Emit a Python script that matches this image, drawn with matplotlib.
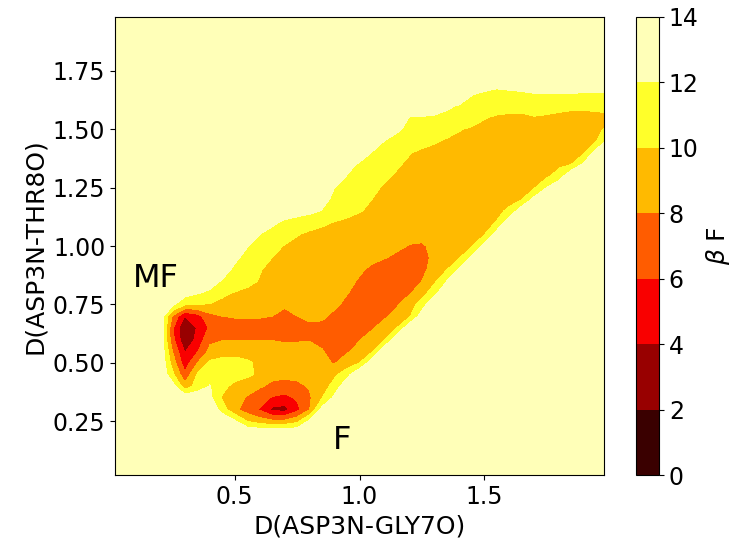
import matplotlib.pyplot as plt
import numpy as np

# free energy grid, 0.05 spacing, values in units of kT (capped at 14)
grid_x = np.linspace(0.0, 2.0, 41)
grid_y = np.linspace(0.0, 2.0, 41)
f_cap = 14.0

# rows: (y, first x, values going right); rest of the row = cap
fes_rows = [
    (0.25, 0.45, [14, 12.3, 10.0, 9.0, 8.5, 8.5, 9.5, 12.5, 14]),
    (0.30, 0.40, [14, 11.0, 8.5, 7.0, 5.8, 3.5, 3.3, 5.4, 8.0, 12.7, 14]),
    (0.35, 0.25, [14, 13.5, 13.5, 12.5, 9.8, 8.8, 7.8, 7.0, 5.8, 5.3, 6.3, 7.7, 10.0, 12.5, 14]),
    (0.40, 0.20, [14, 13.0, 8.8, 10.8, 12.1, 10.5, 9.5, 8.8, 8.2, 7.6, 7.4, 7.5, 8.2, 9.0, 10.8,
                  13.5, 14]),
    (0.45, 0.20, [14, 10.5, 6.5, 10.2, 11.2, 11.2, 10.8, 10.4, 9.6, 8.5, 8.4, 8.6, 8.9, 9.0, 9.6,
                  11.3, 14]),
    (0.50, 0.20, [14, 9.2, 4.8, 8.0, 10.4, 10.8, 10.8, 10.3, 9.6, 9.3, 9.2, 9.0, 8.8, 8.3, 7.9,
                  8.8, 10.0, 13.2, 14]),
    (0.55, 0.20, [14, 8.0, 3.8, 5.8, 8.5, 9.0, 9.2, 9.2, 9.0, 8.9, 8.8, 8.7, 8.5, 8.1, 7.4, 7.8,
                  8.6, 9.7, 13.5, 14]),
    (0.60, 0.20, [14, 6.6, 2.4, 4.6, 7.6, 7.9, 7.9, 7.9, 7.9, 7.9, 7.7, 7.8, 7.9, 7.6, 7.2, 7.2,
                  7.9, 8.8, 10.0, 13.4, 14]),
    (0.65, 0.20, [14, 6.4, 1.8, 4.2, 6.3, 7.0, 7.0, 7.0, 7.1, 7.2, 7.0, 7.3, 7.5, 7.4, 7.1, 7.0,
                  7.2, 7.8, 8.8, 10.0, 13.5, 14]),
    (0.70, 0.20, [14, 7.8, 4.0, 5.2, 7.4, 8.0, 8.2, 8.2, 8.2, 8.0, 7.6, 8.0, 8.5, 8.4, 7.5, 6.8,
                  6.8, 7.0, 7.7, 8.6, 9.7, 13.0, 14]),
    (0.75, 0.20, [14, 12.5, 10.2, 10.0, 9.9, 9.5, 9.2, 9.0, 8.9, 8.6, 8.2, 8.6, 8.9, 8.8, 8.4,
                  7.5, 6.9, 6.8, 7.0, 7.8, 9.0, 11.0, 14]),
    (0.80, 0.25, [14, 13.0, 12.2, 11.6, 10.4, 9.9, 9.6, 9.4, 9.3, 9.2, 9.2, 9.2, 9.0, 8.7, 8.1,
                  7.3, 6.9, 6.9, 7.2, 7.8, 9.0, 11.3, 14]),
    (0.85, 0.35, [14, 13.0, 11.8, 11.2, 10.5, 9.9, 9.6, 9.4, 9.3, 9.2, 9.1, 8.9, 8.5, 7.8, 7.1,
                  6.8, 6.8, 7.2, 8.0, 9.6, 12.0, 14]),
    (0.90, 0.40, [14, 13.0, 11.6, 10.8, 10.1, 9.6, 9.4, 9.3, 9.3, 9.2, 9.0, 8.7, 8.3, 7.6, 6.9,
                  6.7, 6.9, 7.6, 8.6, 9.9, 12.2, 14]),
    (0.95, 0.45, [14, 12.4, 11.4, 10.7, 10.0, 9.6, 9.4, 9.3, 9.2, 9.1, 9.0, 8.8, 8.5, 8.1, 7.6,
                  7.2, 7.4, 8.4, 9.2, 9.9, 12.4, 14]),
    (1.00, 0.50, [14, 12.1, 11.4, 10.6, 9.9, 9.6, 9.4, 9.3, 9.2, 9.1, 9.0, 8.9, 8.7, 8.4, 7.9,
                  7.8, 8.4, 8.9, 9.3, 9.8, 12.6, 14]),
    (1.05, 0.55, [14, 12.0, 11.3, 10.7, 10.1, 9.7, 9.5, 9.3, 9.2, 9.1, 9.0, 8.9, 8.8, 8.6, 8.5,
                  8.7, 8.9, 9.1, 9.4, 9.9, 13.0, 14]),
    (1.10, 0.60, [14, 12.4, 11.6, 11.1, 10.7, 10.3, 9.9, 9.6, 9.4, 9.2, 9.1, 9.0, 8.9, 8.8, 8.8,
                  8.9, 9.0, 9.2, 9.5, 10.1, 13.6, 14]),
    (1.15, 0.65, [14, 13.2, 12.9, 12.5, 11.9, 11.2, 10.6, 10.1, 9.7, 9.4, 9.2, 9.1, 9.0, 8.9, 8.9,
                  9.0, 9.1, 9.3, 9.6, 10.3, 13.4, 14]),
    (1.20, 0.80, [14, 12.6, 11.6, 11.0, 10.5, 10.0, 9.7, 9.5, 9.3, 9.2, 9.1, 9.0, 9.0, 9.0, 9.1,
                  9.2, 9.5, 9.9, 12.6, 14]),
    (1.25, 0.85, [14, 12.0, 11.4, 10.9, 10.4, 9.8, 9.6, 9.4, 9.3, 9.2, 9.1, 9.1, 9.1, 9.1, 9.2,
                  9.3, 9.5, 9.8, 12.0, 14]),
    (1.30, 0.90, [14, 11.9, 11.5, 11.1, 10.3, 9.8, 9.6, 9.4, 9.3, 9.2, 9.1, 9.1, 9.1, 9.1, 9.2,
                  9.3, 9.4, 9.6, 10.8, 14]),
    (1.35, 0.90, [14, 13.0, 11.6, 11.2, 10.8, 10.2, 9.7, 9.5, 9.4, 9.3, 9.2, 9.2, 9.1, 9.1, 9.1,
                  9.2, 9.3, 9.4, 9.6, 10.0, 12.4, 14]),
    (1.40, 1.00, [14, 11.9, 11.5, 11.0, 10.1, 9.7, 9.5, 9.4, 9.3, 9.3, 9.2, 9.2, 9.2, 9.2, 9.3,
                  9.4, 9.5, 9.6, 9.8, 13.0, 14]),
    (1.45, 1.05, [14, 12.0, 11.6, 11.0, 10.6, 10.2, 9.8, 9.6, 9.5, 9.4, 9.3, 9.3, 9.3, 9.3, 9.3,
                  9.4, 9.5, 9.7, 10.0, 12.5]),
    (1.50, 1.10, [14, 12.2, 11.7, 11.4, 11.1, 10.7, 10.1, 9.8, 9.6, 9.5, 9.4, 9.4, 9.4, 9.4, 9.4,
                  9.5, 9.6, 9.8, 10.2]),
    (1.55, 1.15, [14, 11.9, 11.8, 11.6, 11.4, 11.1, 10.7, 10.1, 9.8, 9.7, 9.7, 9.9, 9.8, 9.7, 9.7,
                  9.7, 9.7, 9.8]),
    (1.60, 1.25, [14, 13.5, 12.4, 11.8, 11.3, 11.0, 10.7, 10.6, 10.5, 10.8, 10.6, 10.4, 10.2, 10.2,
                  10.3, 10.3]),
    (1.65, 1.40, [14, 12.1, 11.7, 11.5, 11.6, 11.7, 11.9, 11.95, 11.9, 11.9, 11.8, 11.8, 11.8]),
    (1.70, 1.45, [14, 13.0, 12.6, 12.8, 13.0, 13.3, 13.5, 13.4, 13.4, 13.4, 13.4, 13.4]),
]

levels = [0, 2, 4, 6, 8, 10, 12, 14]
x_ticks = [0.5, 1.0, 1.5]
y_ticks = [0.25, 0.5, 0.75, 1.0, 1.25, 1.5, 1.75]
state_labels = [('MF', 0.093, 0.823), ('F', 0.893, 0.133)]

Z = np.full((len(grid_y), len(grid_x)), f_cap)
for y, x0, vals in fes_rows:
    j = int(round(y / 0.05))
    i = int(round(x0 / 0.05))
    Z[j, i:i + len(vals)] = vals

fig = plt.figure(figsize=(7.35, 5.43), dpi=100)
ax = fig.add_axes([0.1565, 0.1252, 0.6653, 0.8435])
cax = fig.add_axes([0.865, 0.1252, 0.0317, 0.8435])

cs = ax.contourf(grid_x, grid_y, Z, levels=levels, cmap='hot')
ax.set_xlim(0.02, 1.98)
ax.set_ylim(0.02, 1.98)
ax.set_xticks(x_ticks)
ax.set_yticks(y_ticks)
ax.tick_params(labelsize=17)
ax.set_xlabel('D(ASP3N-GLY7O)', fontsize=18)
ax.set_ylabel('D(ASP3N-THR8O)', fontsize=18)

for name, tx, ty in state_labels:
    ax.text(tx, ty, name, fontsize=23, ha='left', va='baseline')

cbar = fig.colorbar(cs, cax=cax, ticks=levels)
cbar.ax.tick_params(labelsize=17)
cbar.set_label(r'$\beta$ F', fontsize=18)

fig.savefig('out.png', dpi=100)
